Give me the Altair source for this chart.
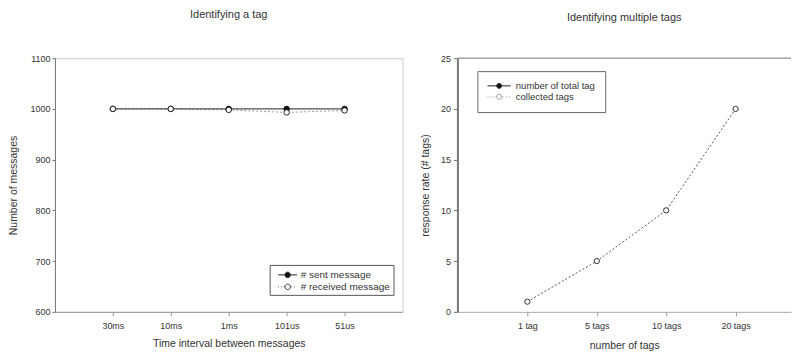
import altair as alt
import pandas as pd

# ---------------- data ----------------
left_title = "Identifying a tag"
left_categories = ["30ms", "10ms", "1ms", "101us", "51us"]
sent_messages = [1000, 1000, 1000, 1000, 1000]
received_messages = [1000, 1000, 998, 993, 997]
left_series = ["# sent message", "# received message"]
left_y_ticks = [600, 700, 800, 900, 1000, 1100]

right_title = "Identifying multiple tags"
right_categories = ["1 tag", "5 tags", "10 tags", "20 tags"]
collected_tags = [1, 5, 10, 20]
right_series = ["number of total tag", "collected tags"]
right_y_ticks = [0, 5, 10, 15, 20, 25]
right_y_max = [25]

FONT = "Liberation Sans"
TEXT = "#333333"

sent_df = pd.DataFrame({"interval": left_categories, "count": sent_messages})
recv_df = pd.DataFrame({"interval": left_categories, "count": received_messages})
coll_df = pd.DataFrame({"tags": right_categories, "rate": collected_tags})
top_df = pd.DataFrame({"rate": right_y_max})
left_leg_df = pd.DataFrame({"lseries": left_series})
right_leg_df = pd.DataFrame({"rseries": right_series})

# legend symbols: line + circle glyphs (unit coordinates, scaled by symbol size)
def solid_glyph(L, c):
    return (f"M{-L},0L{-c},0M{c},0L{L},0"
            f"M{-c},0A{c},{c},0,1,0,{c},0A{c},{c},0,1,0,{-c},0Z")

def dotted_glyph(L, c, seg, gap):
    parts = []
    x = -L
    while x + seg <= -c:
        parts.append(f"M{x:.2f},0L{x+seg:.2f},0")
        x += seg + gap
    x = c + gap * 0.5
    while x + seg <= L:
        parts.append(f"M{x:.2f},0L{x+seg:.2f},0")
        x += seg + gap
    return "".join(parts) + f"M{-c},0A{c},{c},0,1,0,{c},0A{c},{c},0,1,0,{-c},0Z"

# ---------------- left panel ----------------
xl = alt.X("interval:N", sort=left_categories,
           scale=alt.Scale(type="point", padding=1),
           axis=alt.Axis(title="Time interval between messages", labelAngle=0,
                         domainColor="#999999", tickColor="#999999", tickSize=4,
                         labelPadding=6, titlePadding=8))
yl = alt.Y("count:Q", scale=alt.Scale(domain=[600, 1100], nice=False, zero=False),
           axis=alt.Axis(title="Number of messages", values=left_y_ticks, format="d",
                         domainColor="#777777", tickColor="#777777", tickSize=3,
                         labelPadding=2, titlePadding=11))

l_line_sent = alt.Chart(sent_df).mark_line(color="#222222", strokeWidth=1).encode(x=xl, y=yl)
l_line_recv = alt.Chart(recv_df).mark_line(color="#444444", strokeWidth=1,
                                           strokeDash=[1, 3]).encode(x=xl, y=yl)
l_pt_sent = alt.Chart(sent_df).mark_point(shape="circle", filled=True, fill="#111111",
                                          stroke="#111111", strokeWidth=1, size=30,
                                          opacity=1).encode(x=xl, y=yl)
l_pt_recv = alt.Chart(recv_df).mark_point(shape="circle", filled=True, fill="white",
                                          stroke="#222222", strokeWidth=1, size=30,
                                          opacity=1).encode(x=xl, y=yl)
l_legend = alt.Chart(left_leg_df).transform_filter("false").mark_point(
    strokeWidth=1, opacity=1
).encode(
    shape=alt.Shape("lseries:N",
                    scale=alt.Scale(domain=left_series,
                                    range=[solid_glyph(1.46, 0.42),
                                           dotted_glyph(1.46, 0.42, 0.12, 0.3)]),
                    legend=alt.Legend(title=None, orient="none", legendX=215, legendY=207,
                                      symbolSize=169, symbolOffset=8, labelOffset=6,
                                      labelFontSize=10, labelFont=FONT, labelColor=TEXT,
                                      padding=3, rowPadding=0, strokeColor="#555555",
                                      fillColor="white", symbolStrokeWidth=1,
                                      symbolOpacity=1)),
    fill=alt.Fill("lseries:N", scale=alt.Scale(domain=left_series, range=["#111111", "white"])),
    stroke=alt.Stroke("lseries:N", scale=alt.Scale(domain=left_series,
                                                   range=["#222222", "#333333"])),
)

left = alt.layer(l_line_sent, l_line_recv, l_pt_sent, l_pt_recv, l_legend).properties(
    width=348, height=254,
    title=alt.TitleParams(left_title, fontSize=11, font=FONT, color=TEXT,
                          fontWeight="normal", anchor="middle", offset=34),
    view=alt.ViewBackground(stroke="#cccccc"),
)

# ---------------- right panel ----------------
xr = alt.X("tags:N", sort=right_categories,
           scale=alt.Scale(type="point", padding=0.903, align=0.558),
           axis=alt.Axis(title="number of tags", labelAngle=0,
                         domainColor="#aaaaaa", tickColor="#999999", tickSize=4,
                         labelPadding=6, titlePadding=10))
yr = alt.Y("rate:Q", scale=alt.Scale(domain=[0, 25], nice=False),
           axis=alt.Axis(title="response rate (# tags)", values=right_y_ticks,
                         domainColor="#777777", domainWidth=2, tickColor="#777777",
                         tickSize=4, labelPadding=3, titlePadding=10))

r_top = alt.Chart(top_df).mark_rule(color="#777777", strokeWidth=1).encode(y=yr)
r_line = alt.Chart(coll_df).mark_line(color="#555555", strokeWidth=1,
                                      strokeDash=[2, 2]).encode(x=xr, y=yr)
r_pt = alt.Chart(coll_df).mark_point(shape="circle", filled=True, fill="white",
                                     stroke="#333333", strokeWidth=1, size=28,
                                     opacity=1).encode(x=xr, y=yr)
r_legend = alt.Chart(right_leg_df).transform_filter("false").mark_point(
    strokeWidth=1, opacity=1
).encode(
    shape=alt.Shape("rseries:N",
                    scale=alt.Scale(domain=right_series,
                                    range=[solid_glyph(2.9, 0.62),
                                           dotted_glyph(2.9, 0.62, 0.25, 0.5)]),
                    legend=alt.Legend(title=None, orient="none", legendX=20, legendY=13,
                                      symbolSize=64, symbolOffset=7, labelOffset=12,
                                      labelFontSize=9.5, labelFont=FONT, labelColor=TEXT,
                                      padding=10, rowPadding=0, strokeColor="#666666",
                                      fillColor="white", symbolStrokeWidth=1,
                                      symbolOpacity=1)),
    fill=alt.Fill("rseries:N", scale=alt.Scale(domain=right_series, range=["#111111", "white"])),
    stroke=alt.Stroke("rseries:N", scale=alt.Scale(domain=right_series,
                                                   range=["#222222", "#999999"])),
)

right = alt.layer(r_top, r_line, r_pt, r_legend).properties(
    width=334, height=254,
    title=alt.TitleParams(right_title, fontSize=11, font=FONT, color=TEXT,
                          fontWeight="normal", anchor="middle", offset=31),
    view=alt.ViewBackground(stroke=None),
)

chart = alt.hconcat(left, right, spacing=16).resolve_scale(
    shape="independent", fill="independent", stroke="independent"
).resolve_legend(shape="independent", fill="independent", stroke="independent").properties(
    padding=0, background="white"
).configure_axis(
    grid=False, labelFont=FONT, labelFontSize=9, labelColor=TEXT,
    titleFont=FONT, titleFontSize=10.5, titleFontWeight="normal", titleColor=TEXT,
)

chart.save("out.html", embed_options={"renderer": "svg", "actions": False})
